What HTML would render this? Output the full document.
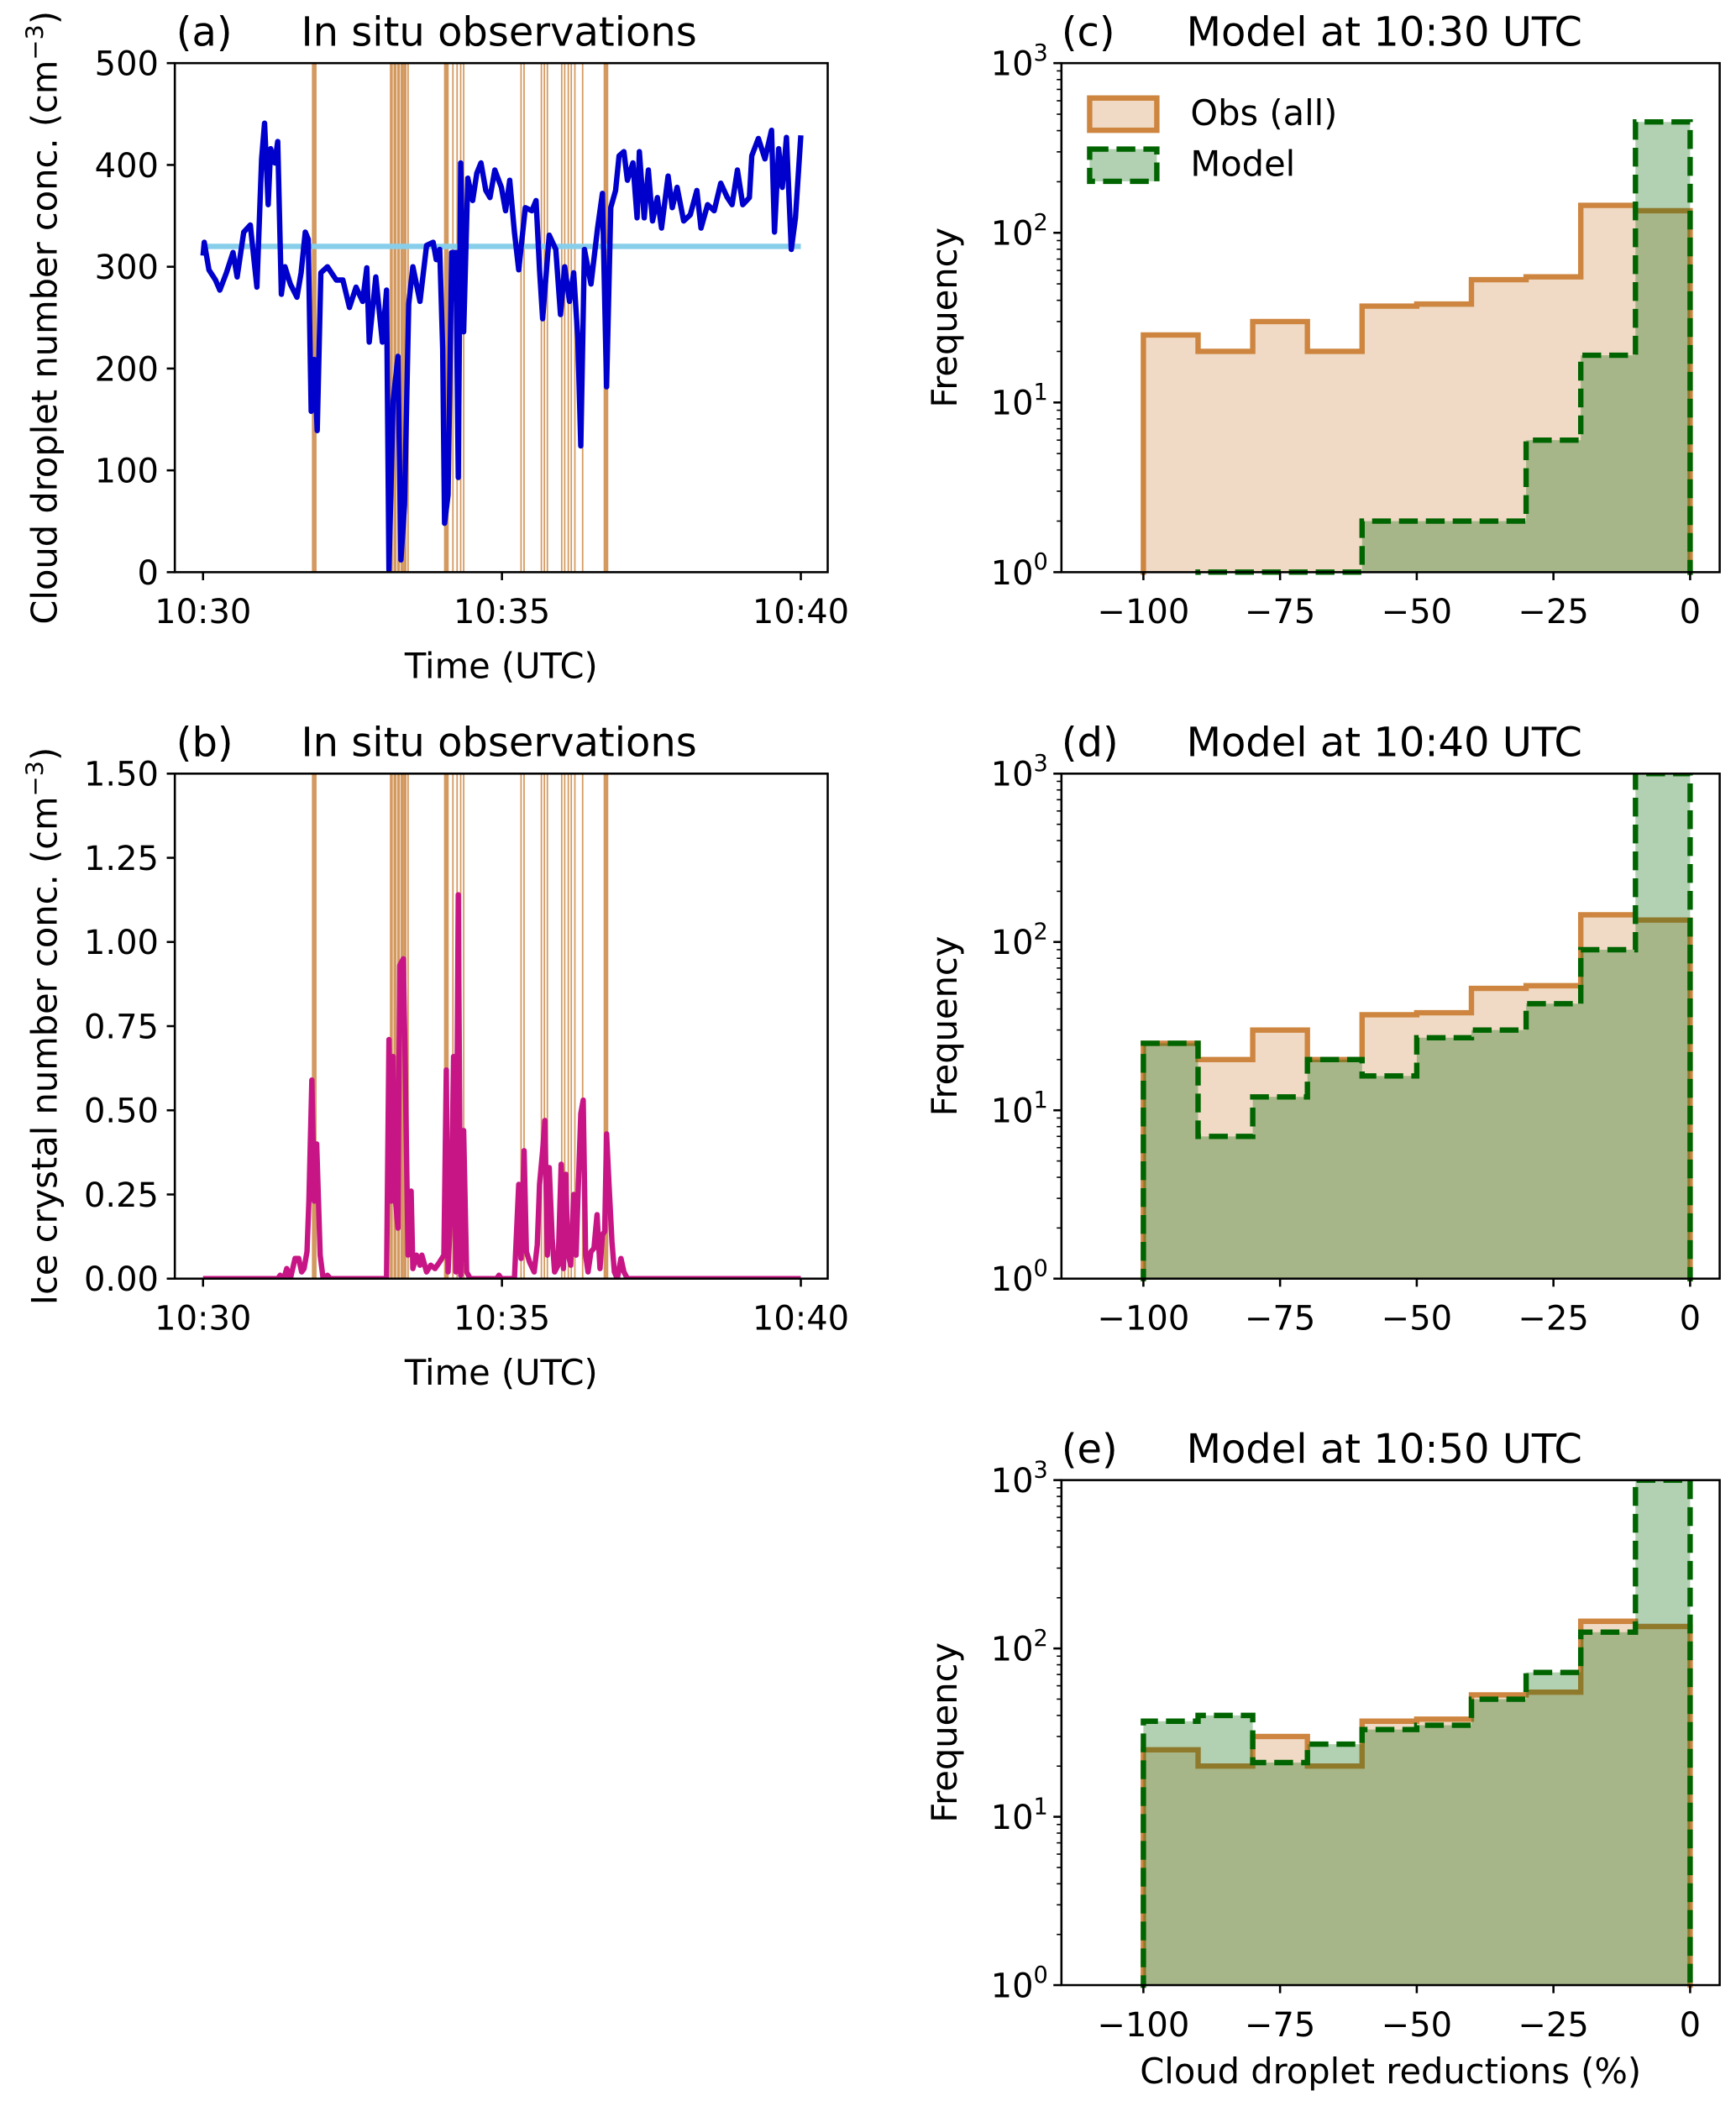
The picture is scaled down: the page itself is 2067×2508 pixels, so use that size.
<!DOCTYPE html>
<html><head><meta charset="utf-8"><style>
html,body{margin:0;padding:0;background:#fff;overflow:hidden;width:2067px;height:2508px}
svg{display:block}
text{font-family:"DejaVu Sans","Liberation Sans",sans-serif;fill:#000}
</style></head><body>
<svg id="fig" xmlns="http://www.w3.org/2000/svg" width="2067" height="2508" viewBox="0 0 1292 1568"></svg>
<script>
// ---- Data: panel (a) cloud droplet number concentration ----
const dropTimes = [0,0.02,0.10,0.21,0.28,0.39,0.50,0.57,0.68,0.79,0.90,0.98,1.03,1.09,1.13,1.20,1.25,1.31,1.37,1.46,1.57,1.64,1.71,1.76,1.81,1.86,1.91,1.97,2.08,2.23,2.34,2.45,2.56,2.67,2.74,2.78,2.89,3.00,3.07,3.11,3.18,3.26,3.31,3.37,3.44,3.51,3.63,3.74,3.85,3.90,3.96,4.01,4.04,4.10,4.16,4.23,4.27,4.31,4.36,4.43,4.51,4.58,4.65,4.73,4.80,4.88,4.99,5.06,5.13,5.21,5.28,5.39,5.50,5.57,5.63,5.68,5.79,5.90,5.98,6.05,6.13,6.20,6.27,6.32,6.38,6.49,6.60,6.68,6.75,6.82,6.90,6.96,7.04,7.10,7.19,7.26,7.30,7.38,7.45,7.52,7.60,7.67,7.78,7.85,7.93,8.04,8.15,8.26,8.33,8.44,8.55,8.66,8.77,8.85,8.94,9.03,9.14,9.18,9.29,9.40,9.51,9.56,9.63,9.69,9.76,9.84,9.91,10.0];
const dropValues = [311,324,297,287,277,294,314,290,334,341,280,406,441,361,416,402,423,273,300,283,270,294,334,327,158,209,139,294,300,287,287,260,280,266,299,226,290,226,277,2,168,212,12,66,263,300,266,321,324,307,317,219,48,76,314,314,93,402,236,387,365,392,402,375,368,395,378,355,385,334,297,358,355,365,297,249,331,317,253,300,266,294,229,124,317,283,338,372,182,358,375,409,413,385,402,348,413,348,395,345,368,338,389,358,378,345,351,375,338,361,355,382,368,361,395,361,368,409,426,406,434,334,416,378,427,317,348,429];
const dropMean = 320;
// ---- Data: panel (b) ice crystal number concentration ----
const iceTimes = [0,1.25,1.29,1.35,1.40,1.46,1.54,1.60,1.65,1.69,1.74,1.77,1.82,1.86,1.90,1.96,2.01,2.08,2.13,3.07,3.11,3.15,3.18,3.22,3.26,3.29,3.35,3.38,3.43,3.48,3.51,3.57,3.63,3.66,3.74,3.81,3.88,3.96,4.03,4.07,4.10,4.16,4.19,4.23,4.27,4.31,4.36,4.41,4.47,4.91,4.95,4.99,5.21,5.28,5.32,5.37,5.41,5.46,5.54,5.59,5.63,5.68,5.72,5.76,5.79,5.84,5.88,5.94,5.99,6.03,6.07,6.10,6.15,6.20,6.24,6.27,6.32,6.36,6.40,6.44,6.49,6.54,6.59,6.64,6.68,6.72,6.75,6.79,6.84,6.88,6.93,6.99,7.04,7.10,10.0];
const iceValues = [0,0,0.01,0,0.03,0,0.06,0.06,0.02,0.03,0.08,0.23,0.59,0.23,0.40,0.07,0,0.01,0,0,0.71,0.23,0.66,0.23,0.15,0.93,0.95,0.66,0.07,0.26,0.03,0.07,0.04,0.07,0.02,0.04,0.03,0.05,0.07,0.62,0.02,0.28,0.66,0.02,1.14,0.01,0.44,0.02,0,0,0.01,0,0,0.28,0.06,0.38,0.08,0.05,0.02,0.10,0.28,0.38,0.47,0.07,0.33,0.12,0.02,0.04,0.34,0.03,0.31,0.08,0.04,0.25,0.07,0.23,0.49,0.53,0.07,0.02,0.08,0.09,0.19,0.03,0.13,0.14,0.43,0.28,0.11,0.02,0,0.06,0.02,0,0];
// ---- Data: event markers (minutes after 10:30) ----
const eventTimes = [1.86,3.15,3.21,3.27,3.33,3.38,3.43,4.07,4.18,4.25,4.31,4.36,5.32,5.37,5.66,5.71,5.76,6.00,6.05,6.11,6.16,6.22,6.35,6.74];
const eventThick = [2,1,1,1,1,1,0,2,0,0,0,0,0,0,0,0,0,0,0,0,0,0,0,2];
const timeTicks = [0,5,10];
const timeTickLabels = ["10:30","10:35","10:40"];
const dropTicks = [0,100,200,300,400,500];
const iceTicks = [0,0.25,0.5,0.75,1.0,1.25,1.5];
const iceTickLabels = ["0.00","0.25","0.50","0.75","1.00","1.25","1.50"];
// ---- Data: histograms ----
const binEdges = [-100,-90,-80,-70,-60,-50,-40,-30,-20,-10,0];
const obsCounts = [25,20,30,20,37,38,53,55,145,135];
const modelC = [0,1,1,1,2,2,2,6,19,450];
const modelD = [25,7,12,20,16,27,30,43,90,1000];
const modelE = [37,40,21,27,33,35,50,72,125,1000];
const histXTicks = [-100,-75,-50,-25,0];
const histXTickLabels = ["\u2212100","\u221275","\u221250","\u221225","0"];
const logTicks = [0,1,2,3];

const NS="http://www.w3.org/2000/svg";
const svg=document.getElementById('fig');
const TICK=25, AXT=26, TTL=30;
function el(tag,attrs,parent){const e=document.createElementNS(NS,tag);for(const k in attrs)e.setAttribute(k,attrs[k]);(parent||svg).appendChild(e);return e;}
function txt(s,x,y,size,anchor,parent,extra){const t=el('text',Object.assign({x:x,y:y,'font-size':size,'text-anchor':anchor||'start'},extra||{}),parent);t.textContent=s;return t;}

let clipId=0;
function makeClip(x0,y0,x1,y1){clipId++;const cp=el('clipPath',{id:'c'+clipId});el('rect',{x:x0,y:y0,width:x1-x0,height:y1-y0},cp);return 'url(#c'+clipId+')';}

function timePanel(name,y0,y1,ymax,yTicks,yTickLabels,letter,ylabel,drawSeries){
  const x0=130,x1=616;
  const g=el('g',{});
  
  
  const X=t=>151+(t/10)*(596-151);
  const Y=v=>y1-(v/ymax)*(y1-y0);
  const clip=makeClip(x0,y0,x1,y1);
  const plot=el('g',{'clip-path':clip},g);
  const ev=el('g',{},plot);
  
  
  eventTimes.forEach((t,i)=>{
    const w=eventThick[i]===2?3.5:(eventThick[i]===1?2.2:1.1);
    const l=el('line',{x1:X(t),x2:X(t),y1:y0,y2:y1,stroke:'#d4995f','stroke-width':w},ev);
    
    
  });
  drawSeries(plot,X,Y);
  const fr=el('rect',{x:x0,y:y0,width:x1-x0,height:y1-y0,fill:'none',stroke:'#000','stroke-width':1.6},g);
  
  
  timeTicks.forEach((t,i)=>{
    el('line',{x1:X(t),x2:X(t),y1:y1,y2:y1+6,stroke:'#000','stroke-width':1.6},g);
    const tl=txt(timeTickLabels[i],X(t),y1+38,TICK,'middle',g);
    
    
  });
  yTicks.forEach((v,i)=>{
    el('line',{x1:x0,x2:x0-6,y1:Y(v),y2:Y(v),stroke:'#000','stroke-width':1.6},g);
    const tl=txt(yTickLabels[i],x0-12,Y(v)+9,TICK,'end',g);
    
    
  });
  const xl=txt('Time (UTC)',373,y1+79,AXT,'middle',g);
  
  
  const yl=el('text',{x:0,y:0,'font-size':AXT,'text-anchor':'middle',transform:'translate(42,'+((y0+y1)/2)+') rotate(-90)'},g);
  
  
  yl.appendChild(document.createTextNode(ylabel+' (cm'));
  const sp=el('tspan',{dy:-10,'font-size':18},yl);sp.textContent='\u22123';
  const sp2=el('tspan',{dy:10},yl);sp2.textContent=')';
  const tt=txt(letter,131,y0-13,TTL,'start',g);
  
  
  const t2=txt('In situ observations',224,y0-13,TTL,'start',g);
  
  
}

timePanel('panel-a-droplets',47,426,500,dropTicks,dropTicks.map(String),'(a)','Cloud droplet number conc.',(p,X,Y)=>{
  const m=el('line',{x1:X(0),x2:X(10),y1:Y(dropMean),y2:Y(dropMean),stroke:'#87ceeb','stroke-width':4},p);
  
  
  const d=dropTimes.map((t,i)=>(i?'L':'M')+X(t).toFixed(1)+','+Y(dropValues[i]).toFixed(1)).join('');
  const l=el('path',{d:d,fill:'none',stroke:'#0000cd','stroke-width':4,'stroke-linejoin':'round'},p);
  
  
});
timePanel('panel-b-ice',576,952,1.5,iceTicks,iceTickLabels,'(b)','Ice crystal number conc.',(p,X,Y)=>{
  const d=iceTimes.map((t,i)=>(i?'L':'M')+X(t).toFixed(1)+','+Y(iceValues[i]).toFixed(1)).join('');
  const l=el('path',{d:d,fill:'none',stroke:'#c71585','stroke-width':4,'stroke-linejoin':'round'},p);
  
  
});

function histPanel(name,y0,y1,letter,title,model,withLegend,withXLabel){
  const x0=790,x1=1280;
  const g=el('g',{});
  
  
  const X=v=>851+(v+100)/100*(1258-851);
  const Y=c=>{const v=c>0?Math.log10(c):-5;return y1-v/3*(y1-y0);};
  const clip=makeClip(x0,y0,x1,y1+2);
  const plot=el('g',{'clip-path':clip},g);
  function stepPath(counts){
    let d='M'+X(binEdges[0])+','+Y(0.00001);
    counts.forEach((c,i)=>{d+='L'+X(binEdges[i]).toFixed(1)+','+Y(c).toFixed(1)+'L'+X(binEdges[i+1]).toFixed(1)+','+Y(c).toFixed(1);});
    return d+'L'+X(binEdges[binEdges.length-1])+','+Y(0.00001);
  }
  function stepFill(counts){
    let d='M'+X(binEdges[0])+','+y1;
    counts.forEach((c,i)=>{const yy=c>0?Y(c):y1;d+='L'+X(binEdges[i]).toFixed(1)+','+yy.toFixed(1)+'L'+X(binEdges[i+1]).toFixed(1)+','+yy.toFixed(1);});
    return d+'L'+X(0)+','+y1+'Z';
  }
  const of=el('path',{d:stepFill(obsCounts),fill:'rgba(205,133,63,0.3)'},plot);
  
  
  const ol=el('path',{d:stepPath(obsCounts),fill:'none',stroke:'#cd853f','stroke-width':4},plot);
  
  
  const mf=el('path',{d:stepFill(model),fill:'rgba(0,100,0,0.3)'},plot);
  
  
  const ml=el('path',{d:stepPath(model),fill:'none',stroke:'#006400','stroke-width':4,'stroke-dasharray':'14,6'},plot);
  
  
  const fr=el('rect',{x:x0,y:y0,width:x1-x0,height:y1-y0,fill:'none',stroke:'#000','stroke-width':1.6},g);
  
  
  histXTicks.forEach((v,i)=>{
    el('line',{x1:X(v),x2:X(v),y1:y1,y2:y1+6,stroke:'#000','stroke-width':1.6},g);
    const tl=txt(histXTickLabels[i],X(v),y1+38,TICK,'middle',g);
    
    
  });
  logTicks.forEach(p=>{
    const yy=Y(Math.pow(10,p));
    el('line',{x1:x0,x2:x0-6,y1:yy,y2:yy,stroke:'#000','stroke-width':1.6},g);
    const tl=el('text',{x:x0-10,y:yy+9,'font-size':TICK,'text-anchor':'end'},g);
    
    
    tl.appendChild(document.createTextNode('10'));
    const s=el('tspan',{dy:-11,'font-size':17},tl);s.textContent=String(p);
    if(p<3){for(let k=2;k<=9;k++){const ym=Y(k*Math.pow(10,p));el('line',{x1:x0,x2:x0-3.5,y1:ym,y2:ym,stroke:'#000','stroke-width':1},g);}}
  });
  const yl=txt('Frequency',0,0,AXT,'middle',g,{transform:'translate(712,'+((y0+y1)/2)+') rotate(-90)'});
  
  
  const tt=txt(letter,790,y0-13,TTL,'start',g);
  
  
  const t2=txt(title,883,y0-13,TTL,'start',g);
  
  
  if(withLegend){
    const lg=el('g',{},g);
    
    
    const e1=el('g',{},lg);
    
    
    el('rect',{x:811,y:73,width:50,height:24,fill:'rgba(205,133,63,0.3)',stroke:'#cd853f','stroke-width':4},e1);
    txt('Obs (all)',886,93,AXT,'start',e1);
    const e2=el('g',{},lg);
    
    
    el('rect',{x:811,y:111,width:50,height:24,fill:'rgba(0,100,0,0.3)',stroke:'#006400','stroke-width':4,'stroke-dasharray':'14,6'},e2);
    txt('Model',886,131,AXT,'start',e2);
  }
  if(withXLabel){
    const xl=txt('Cloud droplet reductions (%)',1035,y1+73,AXT,'middle',g);
    
    
  }
}
histPanel('panel-c-hist',47,426,'(c)','Model at 10:30 UTC',modelC,true,false);
histPanel('panel-d-hist',576,952,'(d)','Model at 10:40 UTC',modelD,false,false);
histPanel('panel-e-hist',1102,1478,'(e)','Model at 10:50 UTC',modelE,false,true);
</script>
</body></html>
